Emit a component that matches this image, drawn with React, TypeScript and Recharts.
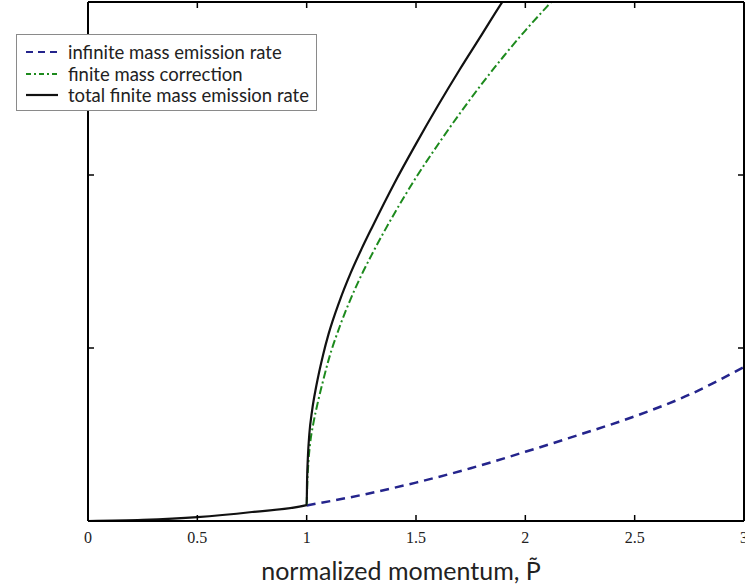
import React from 'react';
import { LineChart, Line, XAxis, YAxis, Legend, Label } from 'recharts';

// ---- data ----
const xTicks = [0, 0.5, 1, 1.5, 2, 2.5, 3];
const xTickLabels = ['0', '0.5', '1', '1.5', '2', '2.5', '3'];
const yTicks = [0, 1, 2, 3];

const seriesNames = [
  'infinite mass emission rate',
  'finite mass correction',
  'total finite mass emission rate',
];

const infiniteX = [1.0, 1.25, 1.5, 1.75, 2.0, 2.25, 2.5, 2.75, 3.0];
const infiniteY = [0.09, 0.15, 0.222, 0.305, 0.4, 0.5, 0.605, 0.73, 0.89];

const correctionX = [1.0, 1.003, 1.008, 1.016, 1.03, 1.05, 1.075, 1.1, 1.15, 1.2, 1.25, 1.3, 1.4, 1.5, 1.6, 1.7, 1.8, 1.9, 2.0, 2.1, 2.2];
const correctionY = [0.092, 0.22, 0.34, 0.45, 0.56, 0.68, 0.81, 0.93, 1.12, 1.28, 1.42, 1.545, 1.775, 1.985, 2.175, 2.355, 2.525, 2.685, 2.835, 2.975, 3.11];

const totalX = [0, 0.25, 0.5, 0.75, 1.0, 1.002, 1.006, 1.012, 1.025, 1.044, 1.075, 1.1, 1.15, 1.2, 1.25, 1.3, 1.4, 1.5, 1.6, 1.7, 1.8, 1.9, 1.95];
const totalY = [0, 0.006, 0.022, 0.052, 0.092, 0.24, 0.38, 0.5, 0.64, 0.78, 0.96, 1.08, 1.27, 1.43, 1.57, 1.7, 1.95, 2.18, 2.4, 2.61, 2.81, 3.01, 3.1];

const toPoints = (xs: number[], ys: number[]) => xs.map((x, i) => ({ x, y: ys[i] }));
const infiniteData = toPoints(infiniteX, infiniteY);
const correctionData = toPoints(correctionX, correctionY);
const totalData = toPoints(totalX, totalY);

const colors = ['#24248c', '#1d8a1d', '#111111'];
const dashes = ['9 6', '8 3 2 3', undefined];
const widths = [2.5, 2, 2.2];
const legendDashes = ['7 5', '5 3 2 3', undefined];

const TICK_MARGIN = 16;
const TICK_LEN = 6;

const BottomTick = (props: any) => {
  const { x, y, payload } = props;
  const axisY = y - TICK_MARGIN;
  const idx = xTicks.indexOf(payload.value);
  return (
    <g>
      <line x1={x} x2={x} y1={axisY} y2={axisY - TICK_LEN} stroke="#000" strokeWidth={1.5} />
      <text
        x={x}
        y={y}
        textAnchor="middle"
        dominantBaseline="central"
        fontFamily="'Liberation Serif', 'Times New Roman', serif"
        fontSize={16}
        fill="#222"
      >
        {xTickLabels[idx]}
      </text>
    </g>
  );
};

const TopTick = (props: any) => {
  const { x, y } = props;
  return <line x1={x} x2={x} y1={y} y2={y + TICK_LEN} stroke="#000" strokeWidth={1.5} />;
};

const LeftTick = (props: any) => {
  const { x, y } = props;
  return <line x1={x} x2={x + TICK_LEN} y1={y} y2={y} stroke="#000" strokeWidth={1.5} />;
};

const RightTick = (props: any) => {
  const { x, y } = props;
  return <line x1={x} x2={x - TICK_LEN} y1={y} y2={y} stroke="#000" strokeWidth={1.5} />;
};

const LegendBox = () => (
  <div
    style={{
      boxSizing: 'border-box',
      width: 301,
      height: 77,
      background: '#fff',
      border: '1px solid #8a8a8a',
      padding: '6px 0 0 9px',
      fontFamily: 'Lato, "Open Sans", sans-serif',
      fontSize: 18.5,
      color: '#222',
    }}
  >
    {seriesNames.map((n, i) => (
      <div key={n} style={{ display: 'flex', alignItems: 'center', height: 21.7, whiteSpace: 'nowrap' }}>
        <svg width={32} height={8} style={{ flex: 'none' }}>
          <line x1={0} x2={32} y1={4} y2={4} stroke={colors[i]} strokeWidth={2.2} strokeDasharray={legendDashes[i]} />
        </svg>
        <span style={{ marginLeft: 10 }}>{n}</span>
      </div>
    ))}
  </div>
);

const XLabel = (props: any) => {
  const vb = props.viewBox;
  return (
    <text
      x={vb.x + vb.width / 2 - 15}
      y={vb.y + vb.height - 6}
      textAnchor="middle"
      fontFamily="Lato, 'Open Sans', sans-serif"
      fontSize={25}
      fill="#222"
    >
      {'normalized momentum, P\u0303'}
    </text>
  );
};

const axisLine = { stroke: '#000', strokeWidth: 2 };

export default function App() {
  return (
    <div style={{ position: 'absolute', left: 0, top: 0, width: 745, height: 586, background: '#fff' }}>
      <LineChart width={745} height={586} margin={{ top: 1, right: 0, bottom: 0, left: 87 }}>
        <XAxis
          xAxisId="b"
          type="number"
          dataKey="x"
          domain={[0, 3]}
          ticks={xTicks}
          allowDataOverflow
          orientation="bottom"
          height={65}
          tickSize={0}
          tickMargin={TICK_MARGIN}
          tick={<BottomTick />}
          tickLine={false}
          axisLine={axisLine}
          interval={0}
        >
          <Label content={<XLabel />} />
        </XAxis>
        <XAxis
          xAxisId="t"
          type="number"
          dataKey="x"
          domain={[0, 3]}
          ticks={xTicks}
          allowDataOverflow
          orientation="top"
          height={1}
          tickSize={0}
          tickMargin={0}
          tick={<TopTick />}
          tickLine={false}
          axisLine={axisLine}
          interval={0}
        />
        <YAxis
          yAxisId="l"
          type="number"
          domain={[0, 3]}
          ticks={yTicks}
          allowDataOverflow
          width={1}
          tickSize={0}
          tickMargin={0}
          tick={<LeftTick />}
          tickLine={false}
          axisLine={axisLine}
          interval={0}
        />
        <YAxis
          yAxisId="r"
          orientation="right"
          type="number"
          domain={[0, 3]}
          ticks={yTicks}
          allowDataOverflow
          width={1}
          tickSize={0}
          tickMargin={0}
          tick={<RightTick />}
          tickLine={false}
          axisLine={axisLine}
          interval={0}
        />
        <Line
          xAxisId="b"
          yAxisId="l"
          data={infiniteData}
          dataKey="y"
          name={seriesNames[0]}
          type="monotone"
          stroke={colors[0]}
          strokeWidth={widths[0]}
          strokeDasharray={dashes[0]}
          dot={false}
          activeDot={false}
          isAnimationActive={false}
        />
        <Line
          xAxisId="b"
          yAxisId="l"
          data={correctionData}
          dataKey="y"
          name={seriesNames[1]}
          type="monotone"
          stroke={colors[1]}
          strokeWidth={widths[1]}
          strokeDasharray={dashes[1]}
          dot={false}
          activeDot={false}
          isAnimationActive={false}
        />
        <Line
          xAxisId="b"
          yAxisId="l"
          data={totalData}
          dataKey="y"
          name={seriesNames[2]}
          type="monotone"
          stroke={colors[2]}
          strokeWidth={widths[2]}
          dot={false}
          activeDot={false}
          isAnimationActive={false}
        />
        <Legend
          layout="horizontal"
          verticalAlign="middle"
          align="center"
          content={<LegendBox />}
          wrapperStyle={{ left: 16, top: 34, width: 301, height: 77 }}
        />
      </LineChart>
    </div>
  );
}
